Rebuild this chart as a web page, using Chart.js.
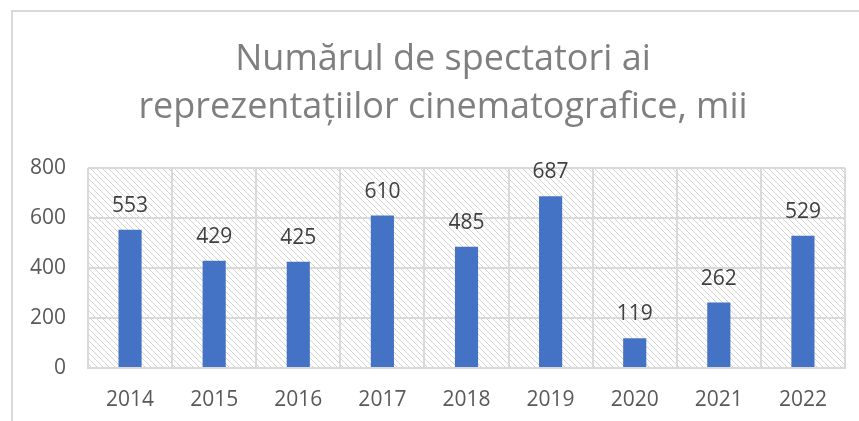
<!DOCTYPE html>
<html>
<head>
<meta charset="utf-8">
<script src="https://cdn.jsdelivr.net/npm/chart.js@4"></script>
<style>
  html, body { margin: 0; padding: 0; background: #fff; }
  #wrap { position: relative; width: 859px; height: 421px; overflow: hidden; }
  #frame { position: absolute; left: 11px; top: 10px; width: 900px; height: 500px; border: 2px solid #d9d9d9; box-sizing: border-box; }
  #myChart { position: absolute; left: 0; top: 0; }
</style>
</head>
<body>
<div id="wrap">
  <div id="frame"></div>
  <canvas id="myChart" width="859" height="421"></canvas>
</div>
<script>
// chart data
const years = ['2014', '2015', '2016', '2017', '2018', '2019', '2020', '2021', '2022'];
const spectators = [553, 429, 425, 610, 485, 687, 119, 262, 529];
const titleLines = ['Numărul de spectatori ai', 'reprezentațiilor cinematografice, mii'];

const FONT = "'Open Sans', sans-serif";

// diagonal hatch for the plot area
function makeHatch() {
    const s = 6;
    const c = document.createElement('canvas');
    c.width = s; c.height = s;
    const g = c.getContext('2d');
    g.fillStyle = '#ffffff';
    g.fillRect(0, 0, s, s);
    g.fillStyle = '#d4d4d4';
    for (let i = 0; i < s; i++) g.fillRect(i, i, 1, 1);
    return g.createPattern(c, 'repeat');
}

const hatchPlugin = {
    id: 'hatch',
    beforeDraw(chart) {
        const a = chart.chartArea;
        const ctx = chart.ctx;
        ctx.save();
        ctx.fillStyle = makeHatch();
        ctx.fillRect(a.left, a.top, a.right - a.left, a.bottom - a.top);
        ctx.restore();
    }
};

// title centred on the outer frame, not on the canvas
const titlePlugin = {
    id: 'frameTitle',
    afterDraw(chart) {
        const ctx = chart.ctx;
        ctx.save();
        ctx.font = '36px ' + FONT;
        ctx.fillStyle = '#7f7f7f';
        ctx.textAlign = 'center';
        ctx.textBaseline = 'middle';
        titleLines.forEach((line, i) => {
            ctx.fillText(line, 443, 60 + i * 48);
        });
        ctx.restore();
    }
};

// value labels above the bars
const labelPlugin = {
    id: 'valueLabels',
    afterDatasetsDraw(chart) {
        const ctx = chart.ctx;
        const meta = chart.getDatasetMeta(0);
        ctx.save();
        ctx.font = '21px ' + FONT;
        ctx.fillStyle = '#404040';
        ctx.textAlign = 'center';
        ctx.textBaseline = 'alphabetic';
        meta.data.forEach((bar, i) => {
            ctx.fillText(String(spectators[i]), bar.x, bar.y - 18);
        });
        ctx.restore();
    }
};

const ctx = document.getElementById('myChart').getContext('2d');

const myChart = new Chart(ctx, {
    type: 'bar',
    data: {
        labels: years,
        datasets: [{
            data: spectators,
            backgroundColor: '#4472c4',
            borderWidth: 0,
            barPercentage: 0.55,
            categoryPercentage: 0.5
        }]
    },
    options: {
        responsive: false,
        animation: false,
        layout: {
            padding: { left: 12, right: 14, top: 168, bottom: 0 }
        },
        scales: {
            x: {
                grid: {
                    color: '#d9d9d9',
                    lineWidth: 2,
                    offset: true,
                    drawTicks: false
                },
                border: { color: '#d9d9d9', width: 2 },
                ticks: {
                    color: '#595959',
                    font: { family: FONT, size: 21 },
                    padding: 19
                },
                afterFit(scale) { scale.height = 53; }
            },
            y: {
                min: 0,
                max: 800,
                grid: {
                    color: '#d9d9d9',
                    lineWidth: 2,
                    drawTicks: false
                },
                border: { display: false },
                ticks: {
                    stepSize: 200,
                    color: '#595959',
                    font: { family: FONT, size: 21 },
                    padding: 22
                },
                afterFit(scale) { scale.width = 76; }
            }
        },
        plugins: {
            legend: { display: false },
            tooltip: { enabled: false },
            title: { display: false }
        }
    },
    plugins: [hatchPlugin, labelPlugin, titlePlugin]
});
</script>
</body>
</html>
